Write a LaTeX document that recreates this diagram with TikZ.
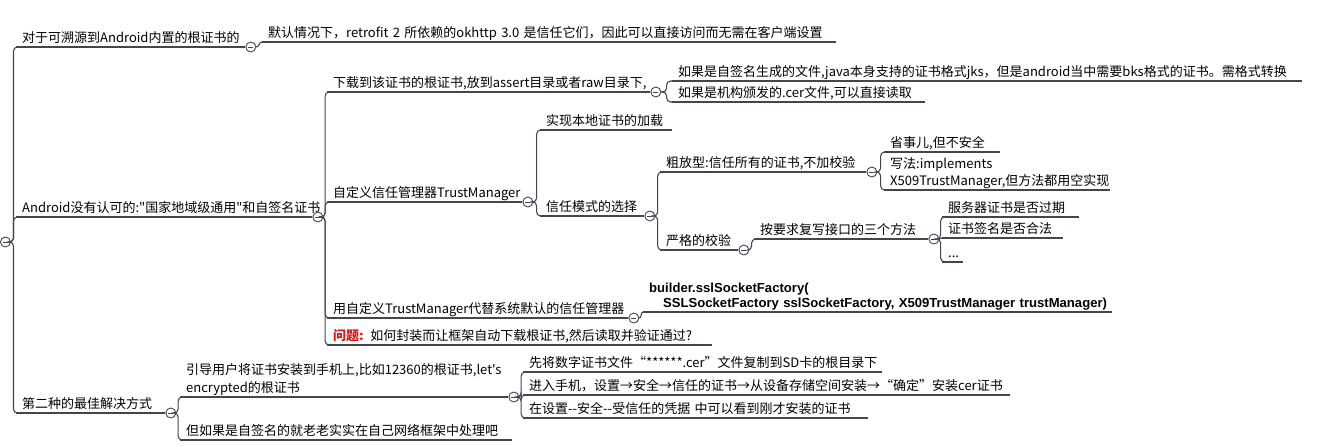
\documentclass[tikz,border=0pt]{standalone}
\usepackage{fontspec}
\setmainfont{Noto Sans CJK SC}[Ligatures=TeXOff]
\newfontfamily\codefont{Liberation Sans}[Ligatures=TeXOff]
\usetikzlibrary{calc}
\definecolor{lc}{RGB}{62,72,84}
\definecolor{qred}{RGB}{220,20,20}
\begin{document}
\begin{tikzpicture}[x=1pt,y=-1pt,
  topic/.style={anchor=south west, inner xsep=6pt, inner ysep=2pt, text width=#1,
    align=left, font=\fontsize{13}{17}\selectfont, text depth=2.5pt},
  twoline/.style={text depth=#1},
  uline/.style={draw=lc, line width=1.1pt},
  conn/.style={draw=lc, line width=1.1pt, rounded corners=4pt},
  tog/.style={circle, draw=lc, fill=white, line width=0.9pt, minimum size=10pt,
    inner sep=0pt, anchor=west,
    path picture={\draw[lc, line width=0.9pt]
      ([xshift=-2.6pt]path picture bounding box.center) --
      ([xshift=2.6pt]path picture bounding box.center);}}]
\useasboundingbox (0,0) rectangle (1330,447);

% ---- topics ----
\node[topic=217pt] (A) at (16,47) {对于可溯源到Android内置的根证书的};
\node[topic=562pt] (A1) at (262,42) {\mbox{默认情况下，retrofit 2 所依赖的okhttp 3.0 是信任它们，因此可以直接访问而无需在客户端设置}};

\node[topic=284pt] (B) at (16,217) {\mbox{Android没有认可的:"国家地域级通用"和自签名证书}};
\node[topic=311pt] (B1) at (327,92) {下载到该证书的根证书,放到assert目录或者raw目录下,};
\node[topic=618pt] (B1a) at (672,81) {如果是自签名生成的文件,java本身支持的证书格式jks，但是android当中需要bks格式的证书。需格式转换};
\node[topic=241pt] (B1b) at (672,102) {如果是机构颁发的.cer文件,可以直接读取};
\node[topic=183pt] (B2) at (327,202) {自定义信任管理器TrustManager};
\node[topic=120pt] (B2a) at (540,130) {实现本地证书的加载};
\node[topic=92pt] (B2b) at (540,216) {信任模式的选择};
\node[topic=194pt] (B2b1) at (660,172) {粗放型:信任所有的证书,不加校验};
\node[topic=104pt] (B2b1a) at (884,152) {省事儿,但不安全};
\node[topic=214pt, twoline=19.5pt] (B2b1b) at (884,190) {写法:implements\\\mbox{X509TrustManager,但方法都用空实现}};
\node[topic=66pt] (B2b2) at (660,250) {严格的校验};
\node[topic=162pt] (B2b2a) at (754,239) {按要求复写接口的三个方法};
\node[topic=125pt] (X1) at (942,217) {服务器证书是否过期};
\node[topic=109pt] (X2) at (942,238) {证书签名是否合法};
\node[topic=9pt] (X3) at (942,262) {...};
\node[topic=289pt] (B3) at (327,318) {\mbox{用自定义TrustManager代替系统默认的信任管理器}};
\node[topic=457pt, twoline=17.5pt, font=\codefont\bfseries\fontsize{13.1}{15}\selectfont] (B3a) at (643,312)
  {builder.sslSocketFactory(\\\mbox{\hspace*{14pt}SSLSocketFactory sslSocketFactory, X509TrustManager trustManager)}};
\node[topic=373pt] (B4) at (327,345) {\mbox{{\color{qred}\bfseries 问题:} 如何封装而让框架自动下载根证书,然后读取并验证通过?}};

\node[topic=137pt] (C) at (16,413) {第二种的最佳解决方式};
\node[topic=316pt, twoline=20pt] (C1) at (180,397) {\mbox{引导用户将证书安装到手机上,比如12360的根证书,let's}\\[0.5pt]encrypted的根证书};
\node[topic=347pt] (C1a) at (523,372) {先将数字证书文件“******.cer”文件复制到SD卡的根目录下};
\node[topic=475pt] (C1b) at (523,395) {\mbox{进入手机，设置→安全→信任的证书→从设备存储空间安装→“确定”安装cer证书}};
\node[topic=333pt] (C1c) at (523,418) {\mbox{在设置--安全--受信任的凭据 中可以看到刚才安装的证书}};
\node[topic=320pt] (C2) at (180,440) {但如果是自签名的就老老实实在自己网络框架中处理吧};

% ---- underlines ----
\foreach \n in {A,A1,B,B1,B1a,B1b,B2,B2a,B2b,B2b1,B2b1a,B2b1b,B2b2,B2b2a,X1,X2,X3,B3,B3a,B4,C,C1,C1a,C1b,C1c,C2}
  \draw[uline] (\n.south west) -- (\n.south east);

% ---- toggles ----
\node[tog] (root) at (0,242) {};
\node[tog] (cA) at (A.south east) {};
\node[tog] (cB) at (B.south east) {};
\node[tog] (cB1) at (B1.south east) {};
\node[tog] (cB2) at (B2.south east) {};
\node[tog] (cB2b) at (B2b.south east) {};
\node[tog] (cB2b1) at (B2b1.south east) {};
\node[tog] (cB2b2) at (B2b2.south east) {};
\node[tog] (cB2b2a) at (B2b2a.south east) {};
\node[tog] (cB3) at (B3.south east) {};
\node[tog] (cC) at (C.south east) {};
\node[tog] (cC1) at (C1.south east) {};

% ---- connectors ----
\foreach \p/\c in {root/A,root/B,root/C,cB/B1,cB/B2,cB/B3,cB/B4,cB1/B1a,cB1/B1b,
  cB2/B2a,cB2/B2b,cB2b/B2b1,cB2b/B2b2,cB2b1/B2b1a,cB2b1/B2b1b,cB2b2/B2b2a,
  cB2b2a/X1,cB2b2a/X3,cC/C1,cC/C2,cC1/C1a,cC1/C1b,cC1/C1c}
  \draw[conn] (\p.east) -- ($(\p.east)!0.5!(\p.east -| \c.south west)$) |- (\c.south west);
\draw[uline] (cA.east) to[out=0,in=180] (A1.south west);
\draw[uline] (cB3.east) to[out=0,in=180] (B3a.south west);
\draw[uline] (cB2b2a.east) to[out=0,in=180] (X2.south west);
\end{tikzpicture}
\end{document}
